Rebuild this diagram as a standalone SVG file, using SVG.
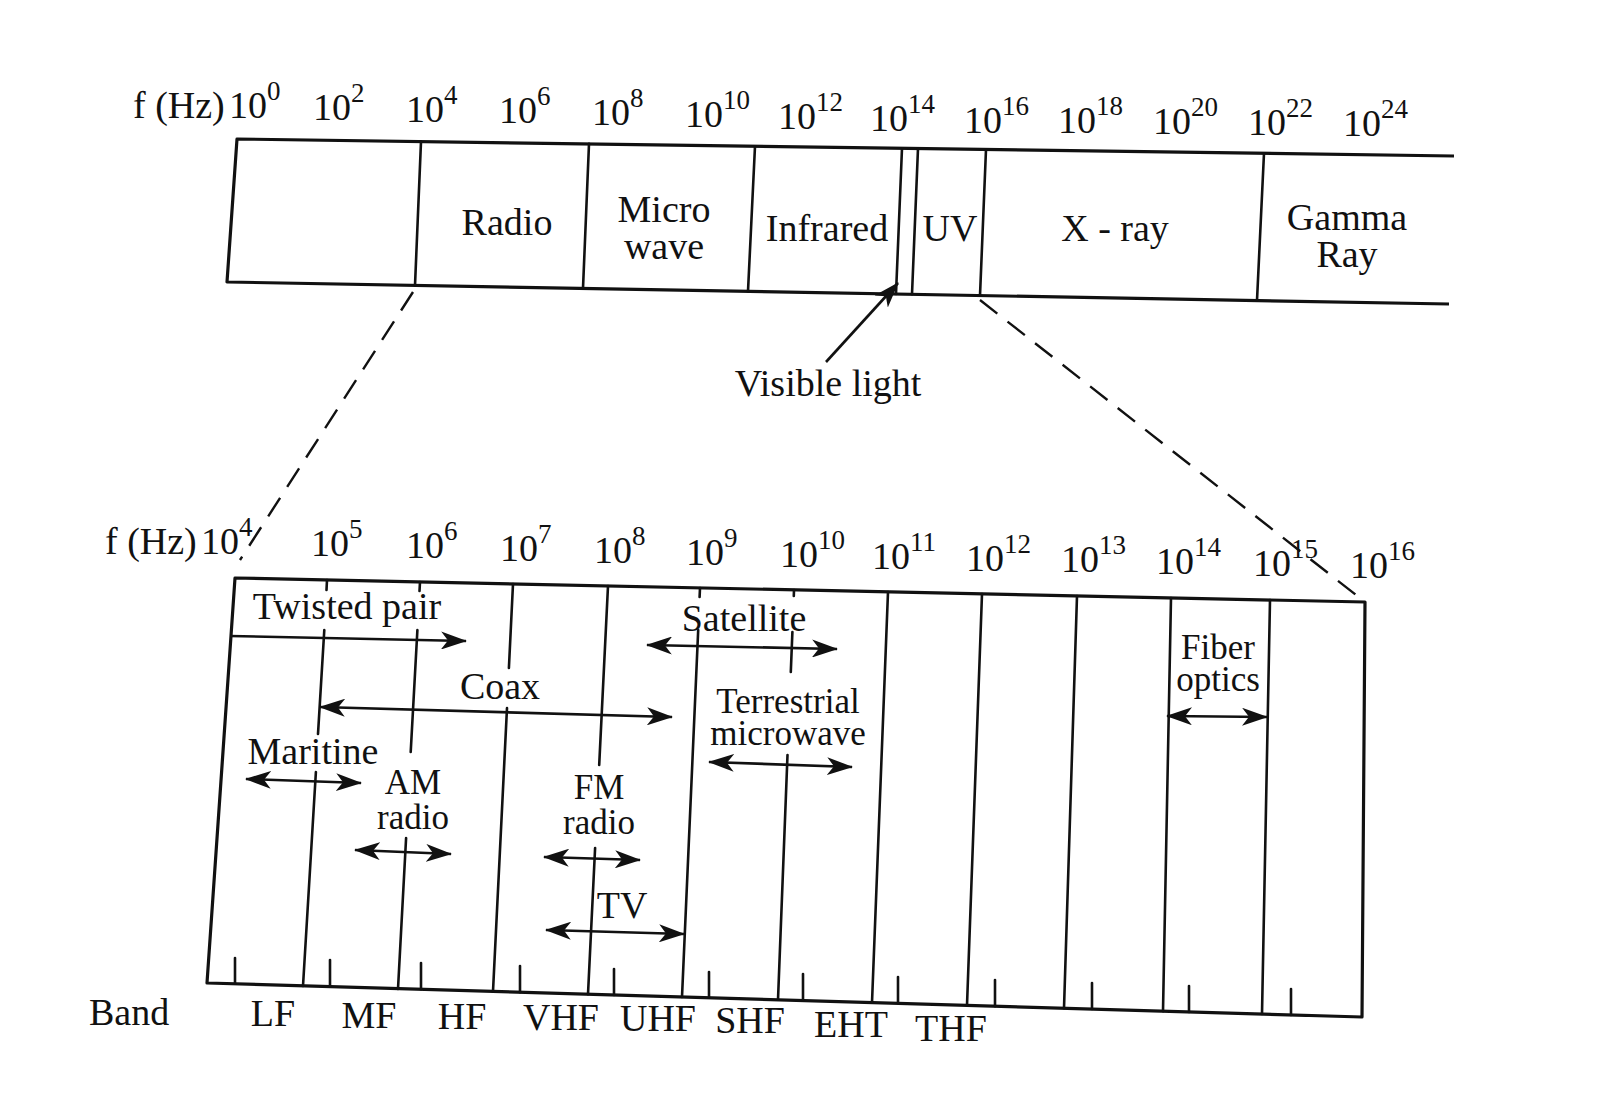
<svg xmlns="http://www.w3.org/2000/svg" width="1600" height="1102" viewBox="0 0 1600 1102">
<defs>
<style>
text{font-family:"Liberation Serif","Times New Roman",serif;fill:#111}
.lbl{font-size:38px;text-anchor:middle}
.lbl2{font-size:35px;text-anchor:middle}
.num{font-size:38px}
.sup{font-size:27px}
.ln{stroke:#111;stroke-width:2.6;fill:none;stroke-linecap:round}
.box{stroke:#111;stroke-width:3.2;fill:none;stroke-linejoin:round}
.dash{stroke:#111;stroke-width:2.4;fill:none;stroke-dasharray:22 13}
.arr{stroke:#111;stroke-width:2.6;fill:none;marker-end:url(#ah)}
.arr2{stroke:#111;stroke-width:2.6;fill:none;marker-start:url(#ah);marker-end:url(#ah)}
</style>
<marker id="ah" viewBox="0 0 26 18" refX="25" refY="9" markerWidth="26" markerHeight="18" markerUnits="userSpaceOnUse" orient="auto-start-reverse">
<path d="M0,0 L26,9 L0,18 L7,9 z" fill="#111"/>
</marker>
</defs>
<rect width="1600" height="1102" fill="#ffffff"/>

<!-- top frequency scale -->
<g id="top-scale">
<text class="num" x="133" y="118">f (Hz)</text>
<text class="num" x="229" y="118">10<tspan class="sup" dy="-18">0</tspan></text>
<text class="num" x="313" y="120">10<tspan class="sup" dy="-18">2</tspan></text>
<text class="num" x="406" y="122">10<tspan class="sup" dy="-18">4</tspan></text>
<text class="num" x="499" y="123">10<tspan class="sup" dy="-18">6</tspan></text>
<text class="num" x="592" y="125">10<tspan class="sup" dy="-18">8</tspan></text>
<text class="num" x="685" y="127">10<tspan class="sup" dy="-18">10</tspan></text>
<text class="num" x="778" y="129">10<tspan class="sup" dy="-18">12</tspan></text>
<text class="num" x="870" y="131">10<tspan class="sup" dy="-18">14</tspan></text>
<text class="num" x="964" y="133">10<tspan class="sup" dy="-18">16</tspan></text>
<text class="num" x="1058" y="133">10<tspan class="sup" dy="-18">18</tspan></text>
<text class="num" x="1153" y="134">10<tspan class="sup" dy="-18">20</tspan></text>
<text class="num" x="1248" y="135">10<tspan class="sup" dy="-18">22</tspan></text>
<text class="num" x="1343" y="136">10<tspan class="sup" dy="-18">24</tspan></text>
</g>

<!-- top spectrum box -->
<g id="spectrum-box">
<path class="box" d="M1454,156 L237,139 L227,282 L1449,304"/>
<line class="ln" x1="421" y1="141.6" x2="415" y2="285.4"/>
<line class="ln" x1="589" y1="143.9" x2="583" y2="288.4"/>
<line class="ln" x1="755" y1="146.2" x2="748" y2="291.4"/>
<line class="ln" x1="902" y1="148.3" x2="896" y2="294"/>
<line class="ln" x1="918" y1="148.5" x2="912" y2="294.3"/>
<line class="ln" x1="986" y1="149.5" x2="980" y2="295.6"/>
<line class="ln" x1="1264" y1="153.3" x2="1257" y2="300.5"/>
</g>
<g id="band-radio"><text class="lbl" x="507" y="235">Radio</text></g>
<g id="band-microwave"><text class="lbl" x="664" y="222">Micro</text><text class="lbl" x="664" y="259">wave</text></g>
<g id="band-infrared"><text class="lbl" x="827" y="241">Infrared</text></g>
<g id="band-uv"><text class="lbl" x="950" y="241">UV</text></g>
<g id="band-xray"><text class="lbl" x="1115" y="241">X - ray</text></g>
<g id="band-gamma"><text class="lbl" x="1347" y="230">Gamma</text><text class="lbl" x="1347" y="267">Ray</text></g>
<g id="visible-light"><text class="lbl" x="828" y="396">Visible light</text></g>

<!-- lower frequency scale -->
<g id="lower-scale">
<text class="num" x="105" y="554">f (Hz)</text>
<text class="num" x="201" y="554">10<tspan class="sup" dy="-18">4</tspan></text>
<text class="num" x="311" y="556">10<tspan class="sup" dy="-18">5</tspan></text>
<text class="num" x="406" y="558">10<tspan class="sup" dy="-18">6</tspan></text>
<text class="num" x="500" y="561">10<tspan class="sup" dy="-18">7</tspan></text>
<text class="num" x="594" y="563">10<tspan class="sup" dy="-18">8</tspan></text>
<text class="num" x="686" y="565">10<tspan class="sup" dy="-18">9</tspan></text>
<text class="num" x="780" y="567">10<tspan class="sup" dy="-18">10</tspan></text>
<text class="num" x="872" y="569">10<tspan class="sup" dy="-18">11</tspan></text>
<text class="num" x="966" y="571">10<tspan class="sup" dy="-18">12</tspan></text>
<text class="num" x="1061" y="572">10<tspan class="sup" dy="-18">13</tspan></text>
<text class="num" x="1156" y="574">10<tspan class="sup" dy="-18">14</tspan></text>
<text class="num" x="1253" y="576">10<tspan class="sup" dy="-18">15</tspan></text>
<text class="num" x="1350" y="578">10<tspan class="sup" dy="-18">16</tspan></text>
</g>

<!-- lower detail box -->
<g id="detail-box">
<path class="box" d="M235,578 L1365,602 L1362,1017 L207,983 Z"/>
<!-- 10^5 -->
<line class="ln" x1="327" y1="580" x2="326.5" y2="590"/>
<line class="ln" x1="324.3" y1="630" x2="318" y2="734"/>
<line class="ln" x1="315.9" y1="772" x2="303" y2="986"/>
<!-- 10^6 -->
<line class="ln" x1="420" y1="582" x2="419.5" y2="591"/>
<line class="ln" x1="417.4" y1="630" x2="410.7" y2="752"/>
<line class="ln" x1="406.1" y1="838" x2="398" y2="989"/>
<!-- 10^7 -->
<line class="ln" x1="513" y1="584" x2="508.9" y2="668"/>
<line class="ln" x1="507" y1="708" x2="493" y2="991.4"/>
<!-- 10^8 -->
<line class="ln" x1="608" y1="586" x2="599.2" y2="765"/>
<line class="ln" x1="595.1" y1="848" x2="588" y2="994.2"/>
<!-- 10^9 -->
<line class="ln" x1="700" y1="588" x2="699.6" y2="597"/>
<line class="ln" x1="698.2" y1="630" x2="682" y2="997"/>
<!-- 10^10 -->
<line class="ln" x1="794" y1="590" x2="793.8" y2="596"/>
<line class="ln" x1="792.4" y1="632" x2="790.8" y2="672"/>
<line class="ln" x1="787.5" y1="755" x2="778" y2="999.8"/>
<!-- 10^11 .. 10^15 -->
<line class="ln" x1="888" y1="592" x2="872" y2="1002.6"/>
<line class="ln" x1="982" y1="594" x2="967" y2="1005.3"/>
<line class="ln" x1="1077" y1="596" x2="1064" y2="1008.2"/>
<line class="ln" x1="1171" y1="598" x2="1163" y2="1011.1"/>
<line class="ln" x1="1270" y1="600" x2="1262" y2="1014"/>
<!-- bottom ticks -->
<line class="ln" x1="235" y1="958" x2="235" y2="983.8"/>
<line class="ln" x1="330" y1="960" x2="330" y2="986.6"/>
<line class="ln" x1="421" y1="963" x2="421" y2="989.3"/>
<line class="ln" x1="520" y1="966" x2="520" y2="992.2"/>
<line class="ln" x1="614" y1="969" x2="614" y2="995"/>
<line class="ln" x1="709" y1="972" x2="709" y2="997.8"/>
<line class="ln" x1="803" y1="974" x2="803" y2="1000.5"/>
<line class="ln" x1="898" y1="977" x2="898" y2="1003.3"/>
<line class="ln" x1="995" y1="980" x2="995" y2="1006.2"/>
<line class="ln" x1="1092" y1="983" x2="1092" y2="1009"/>
<line class="ln" x1="1189" y1="986" x2="1189" y2="1011.9"/>
<line class="ln" x1="1291" y1="989" x2="1291" y2="1014.9"/>
</g>

<!-- media labels -->
<g id="twisted-pair"><text class="lbl" x="347" y="619">Twisted pair</text></g>
<g id="coax"><text class="lbl" x="500" y="699">Coax</text></g>
<g id="satellite"><text class="lbl" x="744" y="631">Satellite</text></g>
<g id="terrestrial"><text class="lbl2" x="788" y="713">Terrestrial</text><text class="lbl2" x="788" y="745">microwave</text></g>
<g id="maritine"><text class="lbl" x="313" y="764">Maritine</text></g>
<g id="am-radio"><text class="lbl2" x="413" y="794">AM</text><text class="lbl2" x="413" y="829">radio</text></g>
<g id="fm-radio"><text class="lbl2" x="599" y="799">FM</text><text class="lbl2" x="599" y="834">radio</text></g>
<g id="tv"><text class="lbl" x="622" y="918">TV</text></g>
<g id="fiber"><text class="lbl2" x="1218" y="659">Fiber</text><text class="lbl2" x="1218" y="691">optics</text></g>

<!-- band names -->
<g id="bands">
<text class="num" x="89" y="1025">Band</text>
<text class="lbl" x="273" y="1026">LF</text>
<text class="lbl" x="369" y="1028">MF</text>
<text class="lbl" x="462" y="1029">HF</text>
<text class="lbl" x="561" y="1030">VHF</text>
<text class="lbl" x="658" y="1031">UHF</text>
<text class="lbl" x="750" y="1033">SHF</text>
<text class="lbl" x="851" y="1037">EHT</text>
<text class="lbl" x="951" y="1041">THF</text>
</g>

<!-- connectors -->
<g id="connectors">
<line class="dash" x1="413" y1="292" x2="240" y2="560"/>
<line class="dash" x1="980" y1="300" x2="1365" y2="602"/>
<path class="arr" d="M826,362 L898,283"/>
<path class="arr" d="M230,636 L466,641"/>
<path class="arr2" d="M320,707 L672,717"/>
<path class="arr2" d="M647,645 L837,649"/>
<path class="arr2" d="M709,762 L852,767"/>
<path class="arr2" d="M246,779 L361,783"/>
<path class="arr2" d="M355,850 L451,854"/>
<path class="arr2" d="M544,857 L640,860"/>
<path class="arr2" d="M546,930 L684,934"/>
<path class="arr2" d="M1167,716 L1267,717"/>
</g>
</svg>
